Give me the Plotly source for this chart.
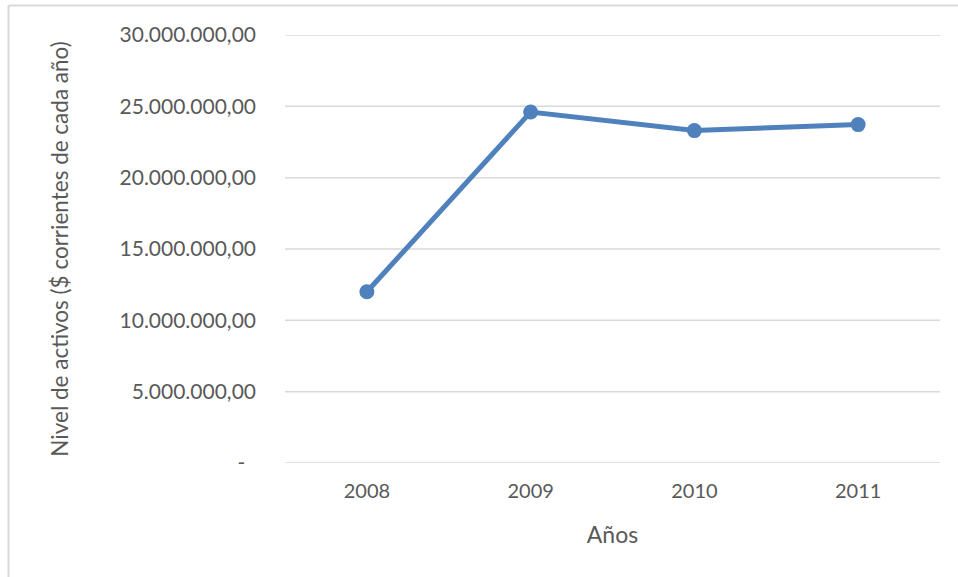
import plotly.graph_objects as go

# Total assets per year (current pesos of each year)
years = ["2008", "2009", "2010", "2011"]
activos = [12000000, 24600000, 23300000, 23720000]

y_ticks = [0, 5000000, 10000000, 15000000, 20000000, 25000000, 30000000]
y_tick_labels = ["-\u00a0\u00a0", "5.000.000,00", "10.000.000,00", "15.000.000,00",
                 "20.000.000,00", "25.000.000,00", "30.000.000,00"]

W, H = 958, 577
L, R, T, B = 285, 18, 35, 114
pw, ph = W - L - R, H - T - B

font_family = "Lato, 'Open Sans', sans-serif"
text_color = "#595959"
grid_color = "#D9D9D9"

fig = go.Figure()

# Horizontal gridlines at every tick, including the range edges
for v in y_ticks:
    fig.add_shape(type="line", xref="paper", yref="y",
                  x0=0, x1=1, y0=v, y1=v,
                  line=dict(color=grid_color, width=1.5), layer="below")

fig.add_trace(go.Scatter(
    x=list(range(len(years))),
    y=activos,
    mode="lines+markers",
    line=dict(color="#4F81BD", width=5),
    marker=dict(color="#4F81BD", size=15),
    showlegend=False,
    hoverinfo="x+y",
))

# Light frame around the chart (top and left edges)
fx0 = (8.5 - L) / pw
fy1 = 1 + (T - 5.5) / ph
fig.add_shape(type="line", xref="paper", yref="paper",
              x0=fx0, x1=1.2, y0=fy1, y1=fy1,
              line=dict(color=grid_color, width=2))
fig.add_shape(type="line", xref="paper", yref="paper",
              x0=fx0, x1=fx0, y0=fy1, y1=-0.5,
              line=dict(color=grid_color, width=2))

fig.update_layout(
    width=W, height=H,
    margin=dict(l=L, r=R, t=T, b=B, pad=0),
    paper_bgcolor="white",
    plot_bgcolor="white",
    font=dict(family=font_family, color=text_color, size=21),
    xaxis=dict(
        range=[-0.5, 3.5],
        tickmode="array",
        tickvals=list(range(len(years))),
        ticktext=years,
        showgrid=False,
        zeroline=False,
        showline=False,
        ticks="",
        ticklabelstandoff=14,
        tickfont=dict(size=20, color=text_color),
        title=dict(text="Años", font=dict(size=23, color=text_color), standoff=25),
    ),
    yaxis=dict(
        range=[0, 30000000],
        tickmode="array",
        tickvals=y_ticks,
        ticktext=y_tick_labels,
        showgrid=False,
        zeroline=False,
        showline=False,
        ticks="",
        ticklabelstandoff=28,
        tickfont=dict(size=21, color=text_color),
        title=dict(text="Nivel de activos ($ corrientes de cada año)",
                   font=dict(size=22.5, color=text_color), standoff=44),
    ),
)

fig.write_html("out.html")
